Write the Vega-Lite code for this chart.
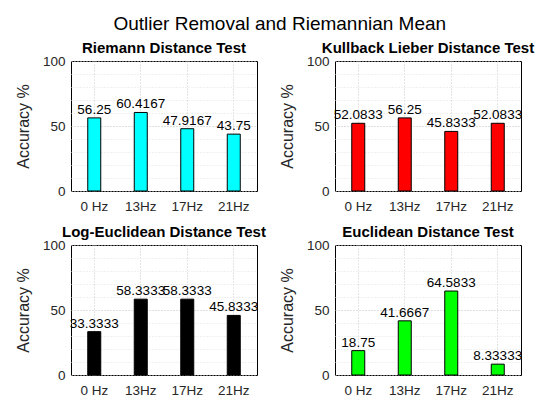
{
  "$schema": "https://vega.github.io/schema/vega-lite/v6.json",
  "padding": {"left": 14, "top": 14, "right": 5, "bottom": 5},
  "title": {"text": "Outlier Removal and Riemannian Mean", "fontSize": 19, "fontWeight": "normal", "font": "Liberation Sans", "color": "#000000", "anchor": "middle", "offset": 7, "dx": 5},
  "config": {
    "font": "Liberation Sans",
    "view": {"stroke": "#000000", "strokeWidth": 1},
    "header": {"labelFontSize": 15, "labelFontWeight": "bold", "labelColor": "#000000", "labelFont": "Liberation Sans", "labelPadding": -2, "title": null}
  },
  "data": {"values": [
    {"test": "Riemann Distance Test", "freq": "0 Hz", "acc": 56.25},
    {"test": "Riemann Distance Test", "freq": "13Hz", "acc": 60.4167},
    {"test": "Riemann Distance Test", "freq": "17Hz", "acc": 47.9167},
    {"test": "Riemann Distance Test", "freq": "21Hz", "acc": 43.75},
    {"test": "Kullback Lieber Distance Test", "freq": "0 Hz", "acc": 52.0833},
    {"test": "Kullback Lieber Distance Test", "freq": "13Hz", "acc": 56.25},
    {"test": "Kullback Lieber Distance Test", "freq": "17Hz", "acc": 45.8333},
    {"test": "Kullback Lieber Distance Test", "freq": "21Hz", "acc": 52.0833},
    {"test": "Log-Euclidean Distance Test", "freq": "0 Hz", "acc": 33.3333},
    {"test": "Log-Euclidean Distance Test", "freq": "13Hz", "acc": 58.3333},
    {"test": "Log-Euclidean Distance Test", "freq": "17Hz", "acc": 58.3333},
    {"test": "Log-Euclidean Distance Test", "freq": "21Hz", "acc": 45.8333},
    {"test": "Euclidean Distance Test", "freq": "0 Hz", "acc": 18.75},
    {"test": "Euclidean Distance Test", "freq": "13Hz", "acc": 41.6667},
    {"test": "Euclidean Distance Test", "freq": "17Hz", "acc": 64.5833},
    {"test": "Euclidean Distance Test", "freq": "21Hz", "acc": 8.33333}
  ]},
  "facet": {"field": "test", "type": "nominal", "sort": ["Riemann Distance Test", "Kullback Lieber Distance Test", "Log-Euclidean Distance Test", "Euclidean Distance Test"], "header": {"labelOrient": "top"}},
  "columns": 2,
  "spacing": {"column": 7, "row": 11},
  "resolve": {"axis": {"x": "independent", "y": "independent"}},
  "spec": {
    "width": 186,
    "height": 130,
    "encoding": {
      "x": {"field": "freq", "type": "ordinal", "sort": ["0 Hz", "13Hz", "17Hz", "21Hz"],
        "scale": {"paddingInner": 0, "paddingOuter": 0},
        "axis": {"title": null, "labelAngle": 0, "bandPosition": 0.5, "grid": true, "gridDash": [1, 2], "gridColor": "#c8c8c8", "ticks": false, "domain": false, "labelFontSize": 13.5, "labelColor": "#262626", "labelPadding": 8}},
      "y": {"field": "acc", "type": "quantitative", "scale": {"domain": [0, 100], "nice": false},
        "axis": {"title": "Accuracy %", "titleFontSize": 16, "titleFontWeight": "normal", "titleColor": "#262626", "titlePadding": 11,
          "values": [0, 10, 20, 30, 40, 50, 60, 70, 80, 90, 100],
          "labelExpr": "datum.value % 50 === 0 ? datum.label : ''",
          "labelFontSize": 13.5, "labelColor": "#262626", "labelPadding": 6,
          "ticks": false, "domain": false, "grid": true, "gridDash": [1, 2],
          "gridColor": {"condition": {"test": "datum.value % 50 === 0", "value": "#c0c0c0"}, "value": "#e2e2e2"}}}
    },
    "layer": [
      {"mark": {"type": "bar", "size": 13, "stroke": "#000000", "strokeWidth": 1},
        "encoding": {"color": {"field": "test", "type": "nominal", "legend": null,
          "scale": {"domain": ["Riemann Distance Test", "Kullback Lieber Distance Test", "Log-Euclidean Distance Test", "Euclidean Distance Test"], "range": ["#00FFFF", "#FF0000", "#000000", "#00FF00"]}}}},
      {"mark": {"type": "text", "baseline": "bottom", "dy": -1, "fontSize": 13.5, "color": "#000000"},
        "encoding": {"text": {"field": "acc", "type": "quantitative", "format": ".6~g"}}}
    ]
  }
}
